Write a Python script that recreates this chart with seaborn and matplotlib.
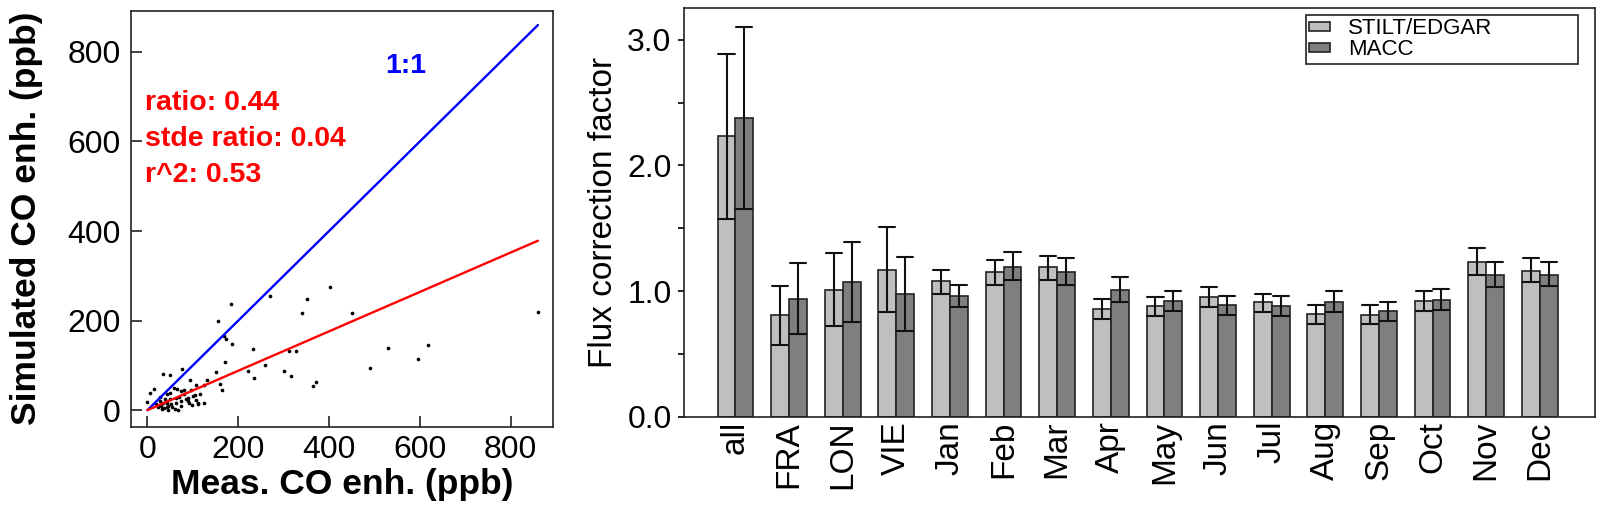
import numpy as np
import pandas as pd
import matplotlib
matplotlib.use("Agg")
import matplotlib.pyplot as plt
import seaborn as sns

meas_co = [860, 401, 352, 271, 184, 156, 340, 451, 168, 174, 186, 233, 312, 327,
           530, 618, 595, 491, 170, 151, 222, 259, 301, 317, 234, 372, 364, 159,
           165, 132, 124, 108, 94, 77, 50, 34, 14, 6, 0, 125, 112, 104, 67,
           58, 66, 73, 50, 43, 81, 89, 100, 62, 50, 27, 35, 19, 42, 62, 73,
           46, 23, 31, 42, 73, 92, 112, 89, 108, 115, 81, 95, 30, 36, 55, 60,
           45, 38, 28, 70, 52, 84, 98]
sim_co = [219, 275, 248, 255, 238, 200, 217, 217, 166, 159, 147, 136, 131, 131,
          139, 146, 114, 95, 108, 85, 87, 100, 87, 76, 72, 62, 53, 59,
          46, 68, 57, 57, 68, 91, 78, 80, 47, 38, 18, 16, 17, 34, 1,
          50, 47, 43, 39, 36, 36, 28, 32, 28, 25, 21, 17, 13, 17, 17, 21,
          10, 6, 2, 6, 10, 17, 13, 21, 22, 36, 45, 44, 10, 5, 8, 3,
          0, 25, 30, 30, 14, 26, 12]
fit_ratio = 0.44
fit_text = ["ratio: 0.44", "stde ratio: 0.04", "r^2: 0.53"]

categories = ["all", "FRA", "LON", "VIE", "Jan", "Feb", "Mar", "Apr", "May",
              "Jun", "Jul", "Aug", "Sep", "Oct", "Nov", "Dec"]
stilt = [2.23, 0.81, 1.01, 1.17, 1.08, 1.15, 1.19, 0.86, 0.88, 0.95, 0.91, 0.82,
         0.81, 0.92, 1.23, 1.16]
stilt_lo = [1.57, 0.57, 0.72, 0.83, 0.98, 1.05, 1.09, 0.78, 0.80, 0.87, 0.83, 0.74,
            0.74, 0.84, 1.13, 1.07]
stilt_hi = [2.89, 1.04, 1.30, 1.51, 1.17, 1.25, 1.28, 0.94, 0.95, 1.03, 0.98, 0.89,
            0.89, 1.00, 1.34, 1.26]
macc = [2.38, 0.94, 1.07, 0.98, 0.96, 1.19, 1.15, 1.01, 0.92, 0.89, 0.88, 0.91,
        0.84, 0.93, 1.13, 1.13]
macc_lo = [1.65, 0.66, 0.75, 0.68, 0.87, 1.09, 1.05, 0.91, 0.84, 0.81, 0.80, 0.83,
           0.76, 0.85, 1.03, 1.04]
macc_hi = [3.10, 1.22, 1.39, 1.27, 1.05, 1.31, 1.26, 1.11, 1.00, 0.96, 0.96, 1.00,
           0.91, 1.02, 1.23, 1.23]
models = ["STILT/EDGAR", "MACC"]

# long table: lower, central and upper value per bar -> median + (min, max) bar
rows = []
for model, mid, lo, hi in [(models[0], stilt, stilt_lo, stilt_hi),
                           (models[1], macc, macc_lo, macc_hi)]:
    for c, m, l, h in zip(categories, mid, lo, hi):
        for v in (l, m, h):
            rows.append({"cat": c, "model": model, "factor": v})
df = pd.DataFrame(rows)

sns.set_theme(style="ticks")
plt.rcParams["font.family"] = ["Liberation Sans", "DejaVu Sans"]
plt.rcParams.update({"text.color": "black", "axes.labelcolor": "black",
                     "xtick.color": "black", "ytick.color": "black"})

fig = plt.figure(figsize=(16.03, 5.05), dpi=100)
ax1 = fig.add_axes([0.0815, 0.155, 0.2637, 0.8238])
ax2 = fig.add_axes([0.4267, 0.1749, 0.5683, 0.8087])

# left: scatter with 1:1 and fitted ratio line
sns.scatterplot(x=meas_co, y=sim_co, ax=ax1, color="black", s=7, linewidth=0)
xmax = max(meas_co)
ax1.plot([0, xmax], [0, xmax], color="#0000ff", lw=1.7)
ax1.plot([0, xmax], [0, fit_ratio * xmax], color="#ff0000", lw=1.7)
ax1.text(570, 768, "1:1", color="#0000ff", fontsize=20.5, fontweight="bold",
         ha="center", va="center")
for t, yy in zip(fit_text, [686, 606, 526]):
    ax1.text(-6, yy, t, color="#ff0000", fontsize=20.5, fontweight="bold",
             ha="left", va="center")
ax1.set_xlim(-37, 894)
ax1.set_ylim(-37, 892)
ax1.set_xticks([0, 200, 400, 600, 800])
ax1.set_yticks([0, 200, 400, 600, 800])
ax1.tick_params(direction="in", length=8, width=1.2, labelsize=23, color="#222222")
ax1.tick_params(axis="y", pad=7)
ax1.tick_params(axis="x", pad=6)
ax1.set_xlabel("Meas. CO enh. (ppb)", fontsize=25.5, fontweight="bold", labelpad=2)
ax1.set_ylabel("Simulated CO enh. (ppb)", fontsize=25.5, fontweight="bold", labelpad=18)
for sp in ax1.spines.values():
    sp.set_linewidth(1.2)
    sp.set_color("#222222")

# right: flux correction factors
sns.barplot(data=df, x="cat", y="factor", hue="model", ax=ax2,
            estimator="median", errorbar=lambda v: (v.min(), v.max()),
            palette=["#bfbfbf", "#7f7f7f"], saturation=1, width=2 / 3,
            edgecolor="#222222", linewidth=1.2, capsize=0.6,
            err_kws={"color": "#111111", "linewidth": 1.5})
ax2.set_xlim(-0.96, 16.03)
ax2.set_ylim(0, 3.25)
ax2.set_yticks(np.arange(0, 3.01, 0.5))
ax2.set_yticklabels(["0.0", "", "1.0", "", "2.0", "", "3.0"])
ax2.tick_params(axis="y", direction="out", length=4, width=1.2, labelsize=23, pad=5)
ax2.tick_params(axis="x", length=0, labelsize=24, pad=3, labelrotation=90)
ax2.set_xlabel("")
ax2.set_ylabel("Flux correction factor", fontsize=24, labelpad=6)
for sp in ax2.spines.values():
    sp.set_visible(True)
    sp.set_linewidth(1.2)
    sp.set_color("#222222")
ax2.legend(title=None, loc="upper left", bbox_to_anchor=(0.6828, 0.9836, 0.2986, 0),
           mode="expand", fontsize=16, frameon=True, fancybox=False,
           edgecolor="#222222", framealpha=1, borderaxespad=0, borderpad=0.15,
           labelspacing=0.0, handlelength=0.95, handleheight=0.27,
           handletextpad=0.8)
ax2.get_legend().get_frame().set_linewidth(1.2)

fig.savefig("out.png", dpi=100)
